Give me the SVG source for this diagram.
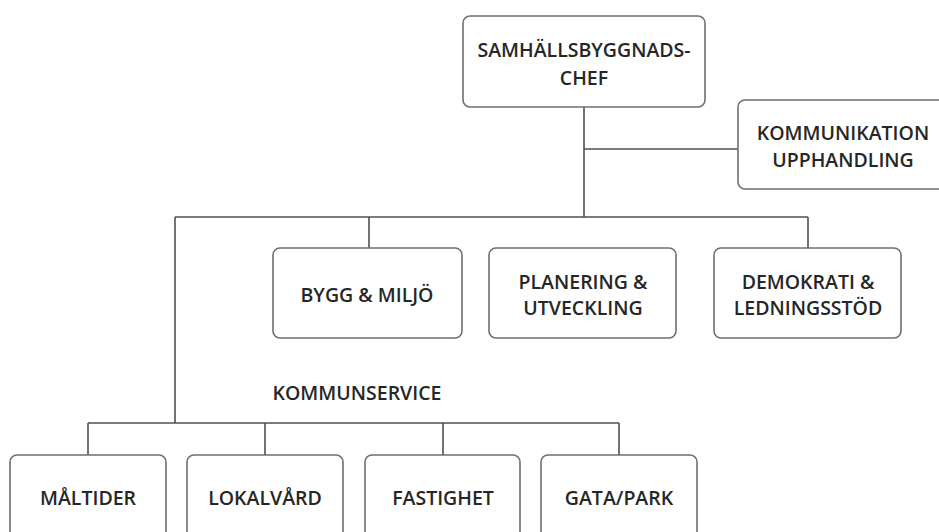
<svg xmlns="http://www.w3.org/2000/svg" width="939" height="532" viewBox="0 0 939 532">
<style>
.box{fill:#fff;stroke:#6f6f6f;stroke-width:1.6}
.ln{fill:none;stroke:#505050;stroke-width:1.6}
text{font-family:"Open Sans","Noto Sans",sans-serif;font-weight:600;font-size:19.5px;fill:#262626;text-anchor:middle}
</style>
<rect width="939" height="532" fill="#fff"/>
<g id="connectors">
<path class="ln" d="M584 107V217M584 149H738M175 217H808M175 217V423M369 217V248M808 217V248M88 423H619M88 423V455M265 423V455M443 423V455M619 423V455"/>
</g>
<g id="chef"><rect class="box" x="463" y="16" width="242" height="91" rx="7"/><text x="584" y="57">SAMHÄLLSBYGGNADS-</text><text x="584" y="85">CHEF</text></g>
<g id="kommunikation"><rect class="box" x="738" y="100" width="210" height="89" rx="7"/><text x="843" y="140">KOMMUNIKATION</text><text x="843" y="167">UPPHANDLING</text></g>
<g id="bygg"><rect class="box" x="273" y="248" width="189" height="90" rx="7"/><text x="367" y="302">BYGG &amp; MILJÖ</text></g>
<g id="planering"><rect class="box" x="489" y="248" width="187" height="90" rx="7"/><text x="583" y="289">PLANERING &amp;</text><text x="583" y="315">UTVECKLING</text></g>
<g id="demokrati"><rect class="box" x="714" y="248" width="187" height="90" rx="7"/><text x="808" y="289">DEMOKRATI &amp;</text><text x="808" y="315">LEDNINGSSTÖD</text></g>
<g id="kommunservice"><text x="357" y="400">KOMMUNSERVICE</text></g>
<g id="maltider"><rect class="box" x="10" y="455" width="156" height="90" rx="7"/><text x="88" y="505">MÅLTIDER</text></g>
<g id="lokalvard"><rect class="box" x="187" y="455" width="156" height="90" rx="7"/><text x="265" y="505">LOKALVÅRD</text></g>
<g id="fastighet"><rect class="box" x="365" y="455" width="155" height="90" rx="7"/><text x="443" y="505">FASTIGHET</text></g>
<g id="gatapark"><rect class="box" x="541" y="455" width="156" height="90" rx="7"/><text x="619" y="505">GATA/PARK</text></g>
</svg>
